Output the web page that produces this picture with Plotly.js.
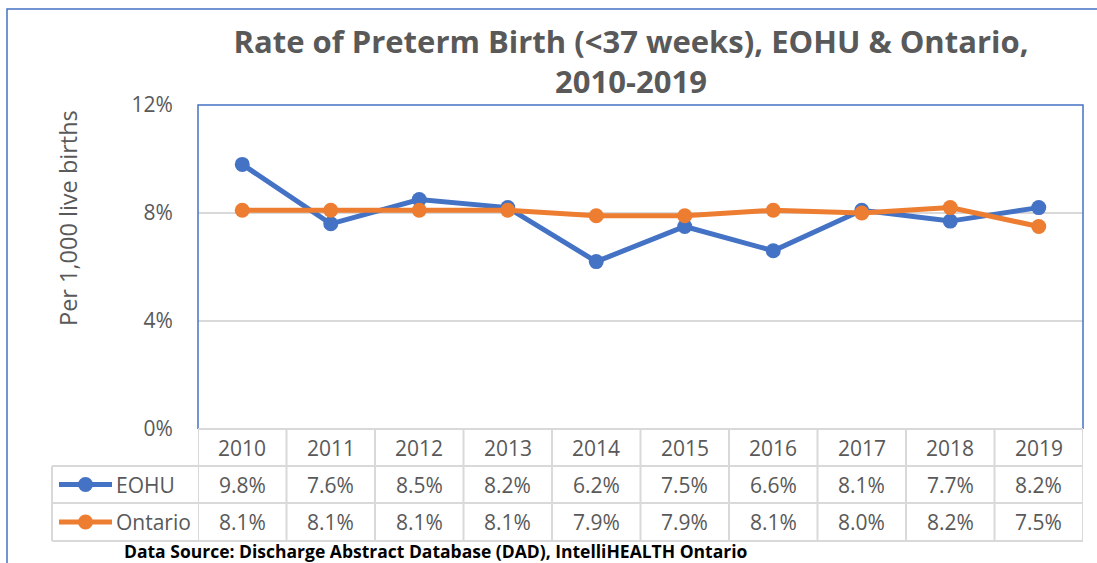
<!DOCTYPE html>
<html>
<head>
<meta charset="utf-8">
<script src="https://cdn.plot.ly/plotly-3.0.1.min.js"></script>
<style>
html,body{margin:0;padding:0;background:#fff;}
#chart{width:1097px;height:563px;}
</style>
</head>
<body>
<div id="chart"></div>
<script>
// ---- data ----
var years = ['2010','2011','2012','2013','2014','2015','2016','2017','2018','2019'];
var eohu = [9.8, 7.6, 8.5, 8.2, 6.2, 7.5, 6.6, 8.1, 7.7, 8.2];
var ontario = [8.1, 8.1, 8.1, 8.1, 7.9, 7.9, 8.1, 8.0, 8.2, 7.5];
var seriesNames = ['EOHU', 'Ontario'];
var yTicks = [0, 4, 8, 12];
var yTickLabels = ['0%', '4%', '8%', '12%'];

// ---- layout geometry ----
var W = 1097, H = 563;
var L = 198, R = 1083, T = 105, B = 429;
var pw = R - L, ph = B - T;
function xp(px){ return (px - L) / pw; }
function yp(py){ return (B - py) / ph; }

var BLUE = '#4472C4', ORANGE = '#ED7D31', GRID = '#D9D9D9', TXT = '#595959';
var FONT = 'Open Sans, Noto Sans, sans-serif';

var traces = [
  {x: years, y: eohu, name: seriesNames[0], type: 'scatter', mode: 'lines+markers',
   line: {color: BLUE, width: 5}, marker: {color: BLUE, size: 15}, cliponaxis: false},
  {x: years, y: ontario, name: seriesNames[1], type: 'scatter', mode: 'lines+markers',
   line: {color: ORANGE, width: 5}, marker: {color: ORANGE, size: 15}, cliponaxis: false}
];

var shapes = [];
var annotations = [];

// outer chart border
shapes.push({type:'rect', xref:'paper', yref:'paper', x0: xp(7), x1: xp(1110), y0: yp(580), y1: yp(9),
  line:{color: BLUE, width: 1.5}, layer:'below'});
// plot area border (left, top, right)
shapes.push({type:'path', xref:'paper', yref:'paper',
  path: 'M 0 0 L 0 1 L 1 1 L 1 0', line:{color: BLUE, width: 1.5}, layer:'above'});

// table geometry
var rowY = [429, 466, 503, 541];
var legendLeft = 52;
shapes.push({type:'line', xref:'paper', yref:'paper', x0: 0, x1: 1, y0: yp(rowY[0]), y1: yp(rowY[0]), line:{color: GRID, width: 2}});
for (var r = 1; r < rowY.length; r++) {
  shapes.push({type:'line', xref:'paper', yref:'paper', x0: xp(legendLeft), x1: 1, y0: yp(rowY[r]), y1: yp(rowY[r]), line:{color: GRID, width: 2}});
}
for (var i = 0; i <= years.length; i++) {
  shapes.push({type:'line', xref:'x', yref:'paper', x0: i - 0.5, x1: i - 0.5, y0: yp(rowY[0]), y1: yp(rowY[3]), line:{color: GRID, width: 2}});
}
shapes.push({type:'line', xref:'paper', yref:'paper', x0: xp(legendLeft), x1: xp(legendLeft), y0: yp(rowY[1]), y1: yp(rowY[3]), line:{color: GRID, width: 2}});

// table text
var tfont = {family: FONT, size: 21, color: TXT};
var series = [eohu, ontario];
years.forEach(function(yr, k){
  annotations.push({xref:'x', yref:'paper', x: k, y: yp((rowY[0]+rowY[1])/2), text: yr, showarrow:false, font: tfont, xanchor:'center', yanchor:'middle'});
  series.forEach(function(s, j){
    annotations.push({xref:'x', yref:'paper', x: k, y: yp((rowY[j+1]+rowY[j+2])/2), text: s[k].toFixed(1) + '%', showarrow:false, font: tfont, xanchor:'center', yanchor:'middle'});
  });
});
// legend keys in table
var colors = [BLUE, ORANGE];
seriesNames.forEach(function(nm, j){
  var cy = (rowY[j+1]+rowY[j+2])/2;
  shapes.push({type:'line', xref:'paper', yref:'paper', x0: xp(59), x1: xp(112), y0: yp(cy), y1: yp(cy), line:{color: colors[j], width: 5}});
  shapes.push({type:'circle', xref:'paper', yref:'paper', x0: xp(78), x1: xp(93), y0: yp(cy+7.5), y1: yp(cy-7.5), fillcolor: colors[j], line:{color: colors[j], width: 0}});
  annotations.push({xref:'paper', yref:'paper', x: xp(114), y: yp(cy), text: nm, showarrow:false, font: tfont, xanchor:'left', yanchor:'middle'});
});

// y axis title (placed as rotated text)
annotations.push({xref:'paper', yref:'paper', x: xp(68), y: yp(218), text: 'Per 1,000 live births', textangle: -90,
  showarrow:false, font:{family: FONT, size: 23.5, color: TXT}, xanchor:'center', yanchor:'middle'});

// data source
annotations.push({xref:'paper', yref:'paper', x: xp(436), y: yp(551), text: 'Data Source: Discharge Abstract Database (DAD), IntelliHEALTH Ontario',
  showarrow:false, font:{family: FONT, size: 17.5, color: '#000000', weight: 700}, xanchor:'center', yanchor:'middle'});

var layout = {
  width: W, height: H,
  margin: {l: L, r: W - R, t: T, b: H - B, pad: 0},
  paper_bgcolor: '#ffffff', plot_bgcolor: '#ffffff',
  showlegend: false,
  hovermode: false,
  title: {text: '<b>Rate of Preterm Birth (<37 weeks), EOHU & Ontario,<br>2010-2019</b>',
    font: {family: FONT, size: 31, color: TXT}, xref: 'container', x: 631 / W, xanchor: 'center', y: 1 - 53/H, yanchor: 'middle'},
  xaxis: {type: 'category', range: [-0.5, years.length - 0.5], showticklabels: false, showgrid: false, zeroline: false, showline: false, ticks: ''},
  yaxis: {range: [0, 12], tickvals: yTicks, ticktext: yTickLabels, showgrid: true, gridcolor: GRID, gridwidth: 1.5,
    zeroline: false, showline: false, ticks: 'outside', ticklen: 20, tickcolor: 'rgba(0,0,0,0)',
    tickfont: {family: FONT, size: 21, color: TXT}},
  shapes: shapes,
  annotations: annotations
};

Plotly.newPlot('chart', traces, layout, {displayModeBar: false, staticPlot: true});
</script>
</body>
</html>
